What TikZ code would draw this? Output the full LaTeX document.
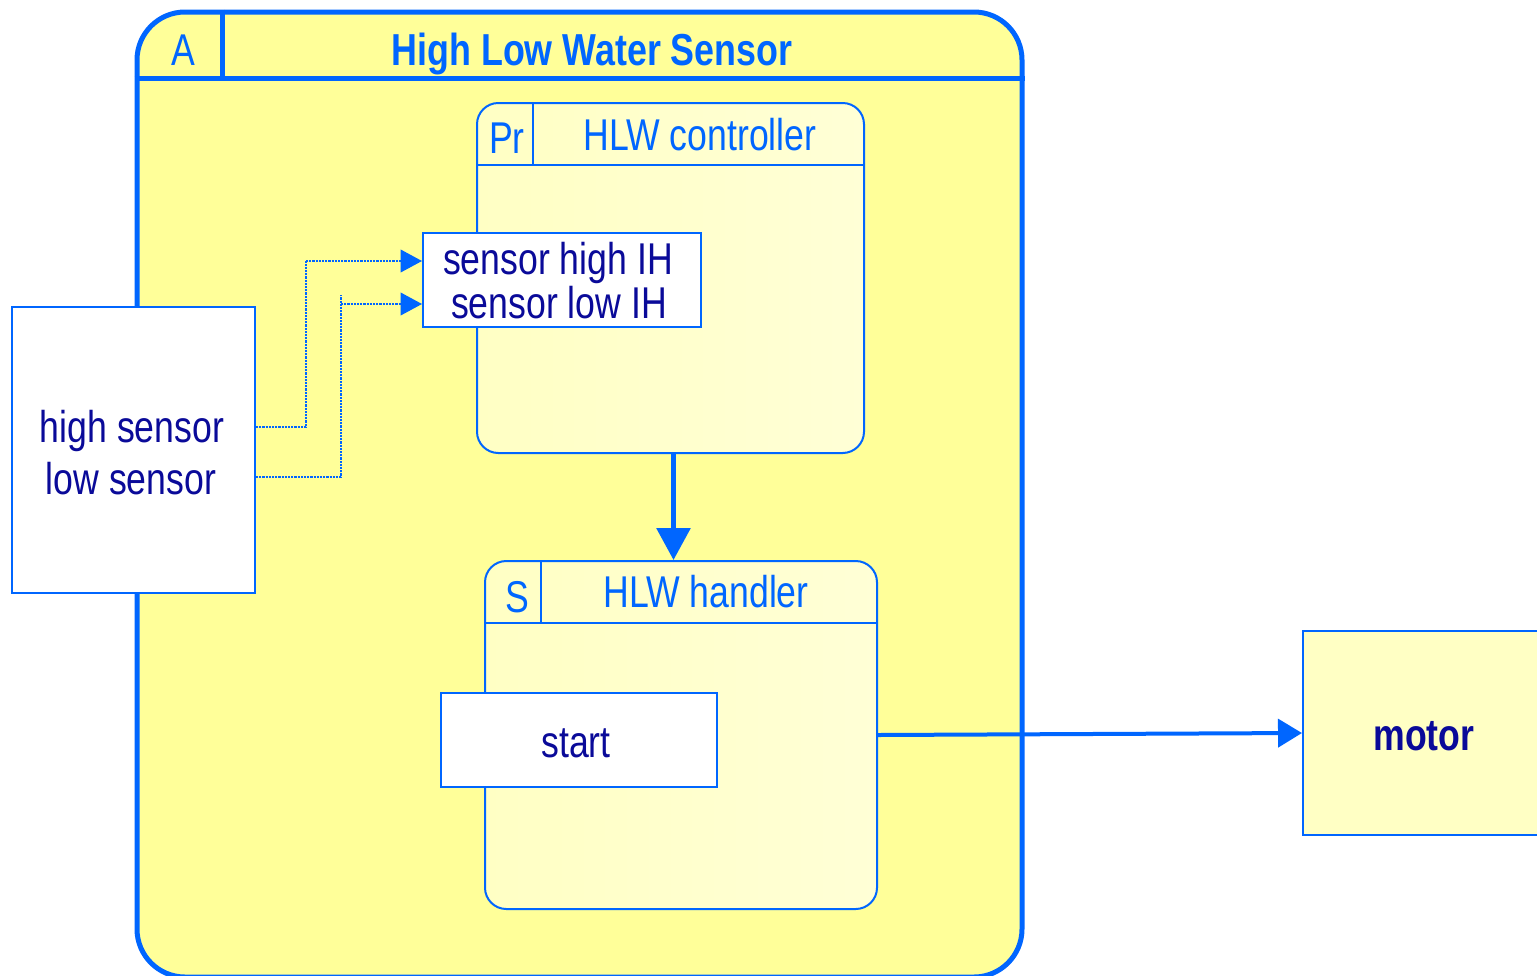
\documentclass[tikz,border=0pt]{standalone}
\usepackage{fontspec}
\setmainfont{Liberation Sans}[FakeStretch=0.8]
\usetikzlibrary{arrows.meta,fit}
\definecolor{edge}{RGB}{0,102,255}
\definecolor{ink}{RGB}{10,10,153}
\definecolor{outerfill}{RGB}{255,255,153}
\definecolor{creamL}{RGB}{255,255,196}
\definecolor{creamR}{RGB}{255,255,214}
\tikzset{
  outerbox/.style={draw=edge, line width=3.75pt, fill=outerfill, inner sep=0pt, rounded corners=36pt},
  statebox/.style={draw=edge, line width=1.5pt, left color=creamL, right color=creamR, inner sep=0pt, rounded corners=16pt},
  plainbox/.style={draw=edge, line width=1.5pt, fill=white, inner sep=0pt},
  termbox/.style={draw=edge, line width=1.5pt, fill=creamL, inner sep=0pt},
  thin rule/.style={draw=edge, line width=1.5pt},
  thick rule/.style={draw=edge, line width=3.75pt},
  txt/.style={font=\fontsize{33.4}{40}\selectfont, text=ink, anchor=base, inner sep=0pt},
  ttl/.style={txt, text=edge},
  dotline/.style={draw=edge, line width=1.1pt, dash pattern=on 1.6pt off 0.8pt},
  dotarrow/.style={dotline, -{Triangle[length=16pt,width=17pt]}},
  bigarrow/.style={draw=edge, line width=3.75pt, -{Triangle[length=24pt,width=25pt]}},
  flowarrow/.style={draw=edge, line width=3pt, -{Triangle[length=18pt,width=21pt]}},
}
\begin{document}
\begin{tikzpicture}[x=0.75pt,y=-0.75pt]
\clip (0,0) rectangle (1537,975);
\fill[white] (0,0) rectangle (1537,975);

% activity chart: High Low Water Sensor
\node[outerbox, fit={(137,12) (1022,977)}] (act) {};
\draw[thick rule] (act.west |- 0,78) -- (act.east |- 0,78);
\draw[thick rule] (222,0 |- act.north) -- (222,78);
\node[ttl] (actA) at (183,65) {A};
\node[ttl, font=\fontsize{33.6}{40}\selectfont\bfseries] (actT) at (592,65) {High Low Water Sensor};

% process: HLW controller
\node[statebox, fit={(477,103) (864,453)}] (ctrl) {};
\draw[thin rule] (ctrl.west |- 0,165) -- (ctrl.east |- 0,165);
\draw[thin rule] (533,0 |- ctrl.north) -- (533,165);
\node[ttl] (ctrlP) at (507,153) {Pr};
\node[ttl] (ctrlT) at (700,150) {HLW controller};

% input interface of the controller
\node[plainbox, fit={(423,233) (701,327)}] (sens) {};
\node[txt] (sensA) at (558,274) {sensor high IH};
\node[txt] (sensB) at (559,318) {sensor low IH};

% state: HLW handler
\node[statebox, fit={(485,561) (877,909)}] (hand) {};
\draw[thin rule] (hand.west |- 0,623) -- (hand.east |- 0,623);
\draw[thin rule] (541,0 |- hand.north) -- (541,623);
\node[ttl] (handS) at (517,612) {S};
\node[ttl] (handT) at (706,607) {HLW handler};

\node[plainbox, fit={(441,693) (717,787)}] (start) {};
\node[txt] (startT) at (576,757) {start};

% external sensor block
\node[plainbox, fit={(12,307) (255,593)}] (sensors) {};
\node[txt] (sensorsA) at (132,442) {high sensor};
\node[txt] (sensorsB) at (131,494) {low sensor};

% external motor block
\node[termbox, fit={(1303,631) (1560,835)}] (motor) {};
\node[txt, font=\fontsize{33.4}{40}\selectfont\bfseries] (motorT) at (1424,750) {motor};

% sensor signals
\coordinate (hiOut) at (sensors.east |- 0,427);
\coordinate (loOut) at (sensors.east |- 0,477);
\coordinate (hiIn) at (sens.west |- 0,261);
\coordinate (loIn) at (sens.west |- 0,304);
\coordinate (hiBend) at (306,427);
\coordinate (loTop) at (341,295);
\draw[dotline] (hiOut) -- (hiBend) -- (hiBend |- hiIn);
\draw[dotarrow] (hiBend |- hiIn) -- (hiIn);
\draw[dotline] (loOut) -| (loTop);
\draw[dotarrow] (loTop |- loIn) -- (loIn);

% control flow
\draw[bigarrow] ([xshift=2.25pt]ctrl.south) -- ([xshift=2.25pt]ctrl.south |- hand.north);
\draw[flowarrow] (hand.east) -- (motor.west);
\end{tikzpicture}
\end{document}
